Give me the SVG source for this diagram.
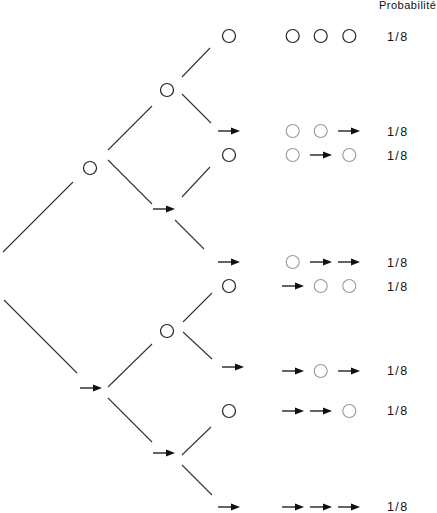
<svg xmlns="http://www.w3.org/2000/svg" xmlns:xlink="http://www.w3.org/1999/xlink" width="437" height="513" viewBox="0 0 437 513">
<style>
.br{stroke:#333;stroke-width:1.1;fill:none}
.c{fill:none;stroke:#222;stroke-width:1.2}
.g{fill:none;stroke:#999;stroke-width:1.1}
.t{font-family:"Liberation Sans",Arial,sans-serif;font-size:12.5px;fill:#111;letter-spacing:1.4px}
.h{font-family:"Liberation Sans",Arial,sans-serif;font-size:11px;fill:#111;letter-spacing:0.5px}
</style>
<defs>
<g id="arr"><line x1="0" y1="0" x2="14" y2="0" stroke="#111" stroke-width="1.3"/><polygon points="13,-3.5 22,0 13,3.5" fill="#111"/></g>
<circle id="cb" r="6.5" class="c"/>
<circle id="cg" r="6.5" class="g"/>
</defs>
<rect width="437" height="513" fill="#fff"/>
<g id="connectors">
<line class="br" x1="3" y1="252" x2="73" y2="182"/>
<line class="br" x1="108" y1="150" x2="152" y2="106"/>
<line class="br" x1="182" y1="77" x2="210" y2="48"/>
<line class="br" x1="182" y1="94" x2="211" y2="123"/>
<line class="br" x1="108" y1="160" x2="152" y2="204"/>
<line class="br" x1="182" y1="197" x2="210" y2="167"/>
<line class="br" x1="175" y1="220" x2="204" y2="249"/>
<line class="br" x1="4" y1="300" x2="77" y2="373"/>
<line class="br" x1="108" y1="387" x2="152" y2="344"/>
<line class="br" x1="183" y1="322" x2="212" y2="293"/>
<line class="br" x1="183" y1="332" x2="212" y2="359"/>
<line class="br" x1="108" y1="398" x2="152" y2="442"/>
<line class="br" x1="182" y1="455" x2="211" y2="427"/>
<line class="br" x1="182" y1="465" x2="212" y2="495"/>
</g>
<g id="tree-nodes">
<use xlink:href="#cb" x="90" y="168"/>
<use xlink:href="#cb" x="167" y="90"/>
<use xlink:href="#cb" x="167" y="331"/>
<use xlink:href="#arr" x="153" y="209"/>
<use xlink:href="#arr" x="80" y="388"/>
<use xlink:href="#arr" x="153" y="453"/>
</g>
<g id="leaves">
<use xlink:href="#cb" x="229" y="36"/>
<use xlink:href="#arr" x="218" y="131"/>
<use xlink:href="#cb" x="229" y="155"/>
<use xlink:href="#arr" x="218" y="262"/>
<use xlink:href="#cb" x="229" y="286"/>
<use xlink:href="#arr" x="222" y="367"/>
<use xlink:href="#cb" x="229" y="411"/>
<use xlink:href="#arr" x="218" y="507"/>
</g>
<g id="outcomes">
<g id="r1"><use xlink:href="#cb" x="292.7" y="36"/><use xlink:href="#cb" x="320.7" y="36"/><use xlink:href="#cb" x="349.3" y="36"/></g>
<g id="r2"><use xlink:href="#cg" x="292.7" y="131"/><use xlink:href="#cg" x="320.7" y="131"/><use xlink:href="#arr" x="338" y="131"/></g>
<g id="r3"><use xlink:href="#cg" x="292.7" y="155"/><use xlink:href="#arr" x="310" y="155"/><use xlink:href="#cg" x="349.3" y="155"/></g>
<g id="r4"><use xlink:href="#cg" x="292.7" y="262"/><use xlink:href="#arr" x="310" y="262"/><use xlink:href="#arr" x="338" y="262"/></g>
<g id="r5"><use xlink:href="#arr" x="282" y="286"/><use xlink:href="#cg" x="320.7" y="286"/><use xlink:href="#cg" x="349.3" y="286"/></g>
<g id="r6"><use xlink:href="#arr" x="282" y="371"/><use xlink:href="#cg" x="320.7" y="371"/><use xlink:href="#arr" x="338" y="371"/></g>
<g id="r7"><use xlink:href="#arr" x="282" y="411"/><use xlink:href="#arr" x="310" y="411"/><use xlink:href="#cg" x="349.3" y="411"/></g>
<g id="r8"><use xlink:href="#arr" x="282" y="507"/><use xlink:href="#arr" x="310" y="507"/><use xlink:href="#arr" x="338" y="507"/></g>
</g>
<g id="probabilities">
<text class="h" x="379" y="9">Probabilité</text>
<text class="t" x="387" y="41">1/8</text>
<text class="t" x="387" y="136">1/8</text>
<text class="t" x="387" y="160">1/8</text>
<text class="t" x="387" y="267">1/8</text>
<text class="t" x="387" y="291">1/8</text>
<text class="t" x="387" y="375">1/8</text>
<text class="t" x="387" y="415">1/8</text>
<text class="t" x="387" y="511">1/8</text>
</g>
</svg>
